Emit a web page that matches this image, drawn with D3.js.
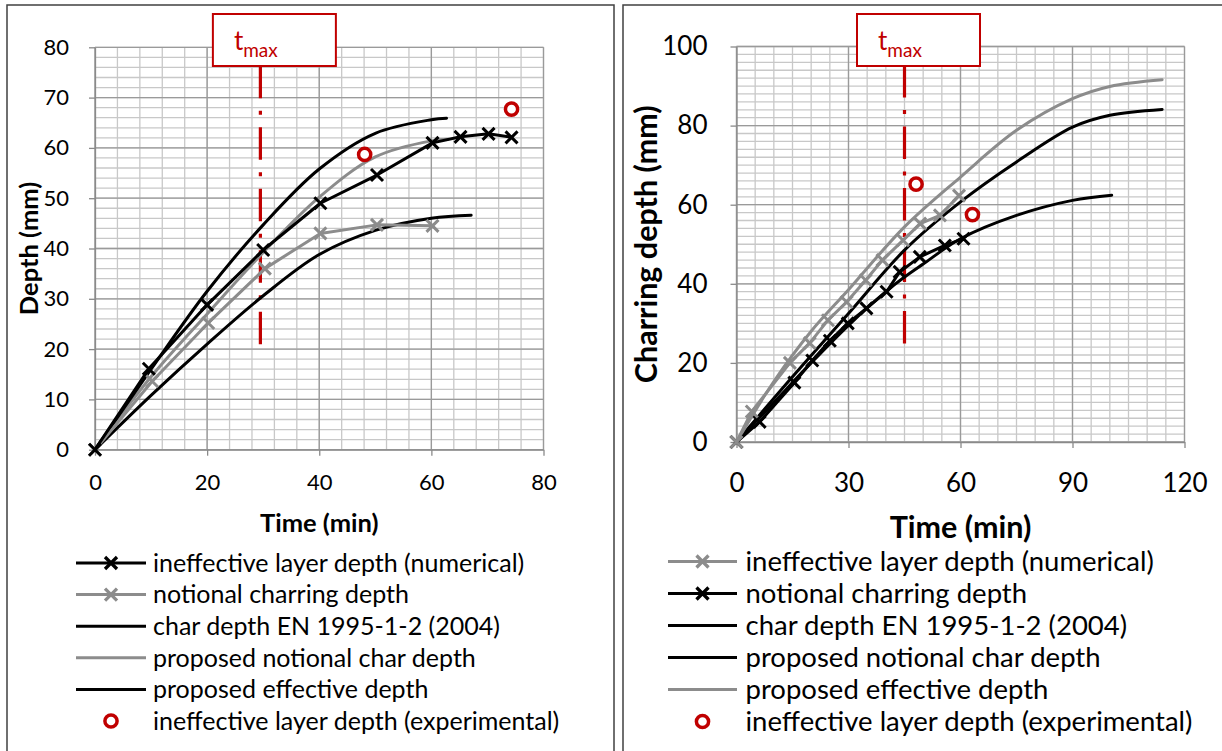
<!DOCTYPE html>
<html>
<head>
<meta charset="utf-8">
<script src="https://cdn.jsdelivr.net/npm/d3@7"></script>
<style>
body { margin: 0; background: #fff; }
text { font-family: Lato, "Open Sans", sans-serif; fill: #000; }
</style>
</head>
<body>
<script>
//Left chart data  [time (min), depth (mm)]
const leftIneffNum = [[0,0],[9.6,16.1],[20,28.8],[30,39.7],[40.2,49],[50.3,54.6],[60.2,61],[65.2,62.2],[70.2,62.8],[74.3,62.1]];
const leftNotional = [[0,0],[10.2,13.6],[20.2,25.2],[30.3,36],[40.2,43],[50.3,44.7],[60.2,44.5]];
const leftEN1995 = [[0,0],[10,10.8],[20,21],[30,30.6],[40,38.8],[50,43.6],[60,46],[67.1,46.6]];
const leftPropNotional = [[0,0],[10,14.5],[20,27],[30,39.2],[40,50.2],[50,58.2],[60,61.4],[63,61.7]];
const leftPropEffective = [[0,0],[10,16],[20,31.5],[30,44.7],[40,55.8],[50,62.9],[60,65.6],[62.7,65.9]];
const leftExperimental = [[48.1,58.7],[74.3,67.7]];
const leftTmax = 29.5;
const leftTmaxRange = [19, 80];
const leftXTicks = [0, 20, 40, 60, 80];
const leftYTicks = [0, 10, 20, 30, 40, 50, 60, 70, 80];

//Right chart data  [time (min), depth (mm)]
const rightIneffNum = [[0,0],[4.1,7.7],[14.3,20],[19.6,25],[24.5,30.8],[29.5,35.4],[34.6,40.9],[39.1,46],[44.6,51],[49.2,55.2],[54.5,57.3],[59.6,62.3]];
const rightNotional = [[0,0],[6.2,5.1],[15.5,15],[20.3,20.6],[25,25.6],[29.8,30],[34.8,33.8],[40.2,38],[43.7,43],[49.1,46.8],[55.8,49.7],[60.8,51.4]];
const rightEN1995 = [[0,0],[10,10],[20,20],[30,29.5],[40,38],[45,41.7],[50,45],[60,51.4],[75,57.3],[90,61.1],[100.5,62.4]];
const rightPropNotional = [[0,0],[15,16.5],[30,32.5],[45,48.5],[60,60.7],[75,70.8],[90,79.6],[100,82.6],[114,84.1]];
const rightPropEffective = [[0,0],[10,15.3],[20,28],[30,38.5],[45,54.4],[60,67],[75,78.8],[90,86.8],[100,89.9],[114,91.6]];
const rightExperimental = [[48.1,65.2],[63.2,57.5]];
const rightTmax = 45;
const rightTmaxRange = [22.7, 100];
const rightXTicks = [0, 30, 60, 90, 120];
const rightYTicks = [0, 20, 40, 60, 80, 100];

//Legend labels
const legendLabels = ["ineffective layer depth (numerical)", "notional charring depth",
    "char depth EN 1995-1-2 (2004)", "proposed notional char depth",
    "proposed effective depth", "ineffective layer depth (experimental)"];

const black = "#000000";
const grey = "#8c8c8c";
const red = "#c00000";

const svg = d3.select("body").append("svg")
    .attr("width", 1222)
    .attr("height", 751);

//Panel frames
svg.append("rect").attr("x", 7).attr("y", 5).attr("width", 607).attr("height", 770)
    .attr("fill", "none").attr("stroke", "#404040").attr("stroke-width", 1.5);
svg.append("rect").attr("x", 623).attr("y", 5).attr("width", 620).attr("height", 770)
    .attr("fill", "none").attr("stroke", "#404040").attr("stroke-width", 1.5);

const xMark = s => `M${-s},${-s}L${s},${s}M${-s},${s}L${s},${-s}`;

function drawPanel(p) {
    const g = svg.append("g");
    const x = d3.scaleLinear().domain(p.xDomain).range([p.left, p.right]);
    const y = d3.scaleLinear().domain(p.yDomain).range([p.bottom, p.top]);

    //minor grid
    d3.range(p.xDomain[0], p.xDomain[1] + 0.01, p.xMinor).forEach(v => {
        g.append("line").attr("x1", x(v)).attr("x2", x(v)).attr("y1", p.top).attr("y2", p.bottom)
            .attr("stroke", "#c8c8c8").attr("stroke-width", 1.3);
    });
    d3.range(p.yDomain[0], p.yDomain[1] + 0.01, p.yMinor).forEach(v => {
        g.append("line").attr("y1", y(v)).attr("y2", y(v)).attr("x1", p.left).attr("x2", p.right)
            .attr("stroke", "#c8c8c8").attr("stroke-width", 1.3);
    });
    //major grid
    p.xTicks.forEach(v => {
        g.append("line").attr("x1", x(v)).attr("x2", x(v)).attr("y1", p.top).attr("y2", p.bottom)
            .attr("stroke", "#9a9a9a").attr("stroke-width", 1.3);
    });
    p.yTicks.forEach(v => {
        g.append("line").attr("y1", y(v)).attr("y2", y(v)).attr("x1", p.left).attr("x2", p.right)
            .attr("stroke", "#9a9a9a").attr("stroke-width", 1.3);
    });

    //axes
    const xAxis = g.append("g").attr("transform", `translate(0,${p.bottom})`)
        .call(d3.axisBottom(x).tickValues(p.xTicks).tickSize(6).tickSizeOuter(0).tickPadding(p.xPad));
    const yAxis = g.append("g").attr("transform", `translate(${p.left},0)`)
        .call(d3.axisLeft(y).tickValues(p.yTicks).tickSize(6).tickSizeOuter(0).tickPadding(p.yPad));
    [xAxis, yAxis].forEach(a => {
        a.select(".domain").attr("stroke", "#8a8a8a").attr("stroke-width", 1.3);
        a.selectAll(".tick line").attr("stroke", "#8a8a8a").attr("stroke-width", 1.3);
        a.selectAll(".tick text").style("font-family", "Lato, sans-serif")
            .style("font-size", p.tickFont + "px").attr("fill", "#000");
    });

    //axis titles
    g.append("text")
        .attr("x", (p.left + p.right) / 2).attr("y", p.xTitleY)
        .attr("text-anchor", "middle")
        .style("font-weight", "bold").style("font-size", p.titleFont + "px")
        .text("Time (min)");
    g.append("text")
        .attr("transform", `translate(${p.yTitleX},${(p.top + p.bottom) / 2}) rotate(-90)`)
        .attr("text-anchor", "middle")
        .style("font-weight", "bold").style("font-size", p.titleFont + "px")
        .text(p.yTitle);

    //tmax line and box
    const tx = x(p.tmax);
    g.append("line")
        .attr("x1", tx).attr("x2", tx)
        .attr("y1", y(p.tmaxRange[1])).attr("y2", y(p.tmaxRange[0]))
        .attr("stroke", red).attr("stroke-width", 3.2)
        .attr("stroke-dasharray", "32.5,12.5,4,12.5").attr("stroke-dashoffset", 43);
    g.append("rect")
        .attr("x", tx - 47.5).attr("y", 14).attr("width", 123).attr("height", 52)
        .attr("fill", "#fff").attr("stroke", red).attr("stroke-width", 2);
    const tt = g.append("text").attr("x", tx - 26.5).attr("y", 50).style("fill", red);
    tt.append("tspan").style("font-size", "26px").text("t");
    tt.append("tspan").attr("dy", 7).style("font-size", "19px").text("max");

    //lines
    const smooth = d3.line().x(d => x(d[0])).y(d => y(d[1])).curve(d3.curveCatmullRom.alpha(0.5));
    const straight = d3.line().x(d => x(d[0])).y(d => y(d[1]));
    p.series.forEach(s => {
        g.append("path").datum(s.data)
            .attr("d", s.marker ? straight : smooth)
            .attr("fill", "none").attr("stroke", s.color).attr("stroke-width", 3)
            .attr("stroke-linejoin", "round").attr("stroke-linecap", "round");
        if (s.marker) {
            g.selectAll(null).data(s.data).enter().append("path")
                .attr("transform", d => `translate(${x(d[0])},${y(d[1])})`)
                .attr("d", xMark(6)).attr("stroke", s.color).attr("stroke-width", 3).attr("fill", "none");
        }
    });
    g.selectAll(null).data(p.experimental).enter().append("circle")
        .attr("cx", d => x(d[0])).attr("cy", d => y(d[1])).attr("r", 6.1)
        .attr("fill", "#fff").attr("stroke", red).attr("stroke-width", 3.5);

    //legend
    p.legend.forEach((l, i) => {
        const ly = p.legY + i * p.legStep;
        if (l.type === "circle") {
            g.append("circle").attr("cx", (p.legX0 + p.legX1) / 2).attr("cy", ly).attr("r", 6.1)
                .attr("fill", "#fff").attr("stroke", red).attr("stroke-width", 3.5);
        } else {
            g.append("line").attr("x1", p.legX0).attr("x2", p.legX1).attr("y1", ly).attr("y2", ly)
                .attr("stroke", l.color).attr("stroke-width", 3);
            if (l.type === "marker") {
                g.append("path").attr("transform", `translate(${(p.legX0 + p.legX1) / 2},${ly})`)
                    .attr("d", xMark(6)).attr("stroke", l.color).attr("stroke-width", 3.3);
            }
        }
        g.append("text").attr("x", p.legText).attr("y", ly).attr("dy", "0.35em")
            .style("font-size", p.legFont + "px").text(legendLabels[i]);
    });
}

drawPanel({
    xDomain: [0, 80], yDomain: [0, 80], left: 95, right: 543.5, bottom: 449.7, top: 47.3,
    xMinor: 4, yMinor: 2, xTicks: leftXTicks, yTicks: leftYTicks,
    xPad: 19, yPad: 20, tickFont: 22, titleFont: 25.5,
    xTitleY: 532, yTitleX: 38, yTitle: "Depth (mm)",
    tmax: leftTmax, tmaxRange: leftTmaxRange,
    series: [
        {data: leftEN1995, color: black},
        {data: leftPropNotional, color: grey},
        {data: leftPropEffective, color: black},
        {data: leftNotional, color: grey, marker: true},
        {data: leftIneffNum, color: black, marker: true}
    ],
    experimental: leftExperimental,
    legend: [
        {type: "marker", color: black}, {type: "marker", color: grey},
        {type: "line", color: black}, {type: "line", color: grey},
        {type: "line", color: black}, {type: "circle"}
    ],
    legY: 563, legStep: 31.6, legX0: 76, legX1: 146, legText: 153, legFont: 25
});

drawPanel({
    xDomain: [0, 120], yDomain: [0, 100], left: 736.5, right: 1184.5, bottom: 442, top: 46.5,
    xMinor: 5, yMinor: 2, xTicks: rightXTicks, yTicks: rightYTicks,
    xPad: 26, yPad: 23, tickFont: 26, titleFont: 30.5,
    xTitleY: 538, yTitleX: 657, yTitle: "Charring depth (mm)",
    tmax: rightTmax, tmaxRange: rightTmaxRange,
    series: [
        {data: rightEN1995, color: black},
        {data: rightPropNotional, color: black},
        {data: rightPropEffective, color: grey},
        {data: rightNotional, color: black, marker: true},
        {data: rightIneffNum, color: grey, marker: true}
    ],
    experimental: rightExperimental,
    legend: [
        {type: "marker", color: grey}, {type: "marker", color: black},
        {type: "line", color: black}, {type: "line", color: black},
        {type: "line", color: grey}, {type: "circle"}
    ],
    legY: 561.5, legStep: 32, legX0: 668, legX1: 737, legText: 745.5, legFont: 27.5
});
</script>
</body>
</html>
